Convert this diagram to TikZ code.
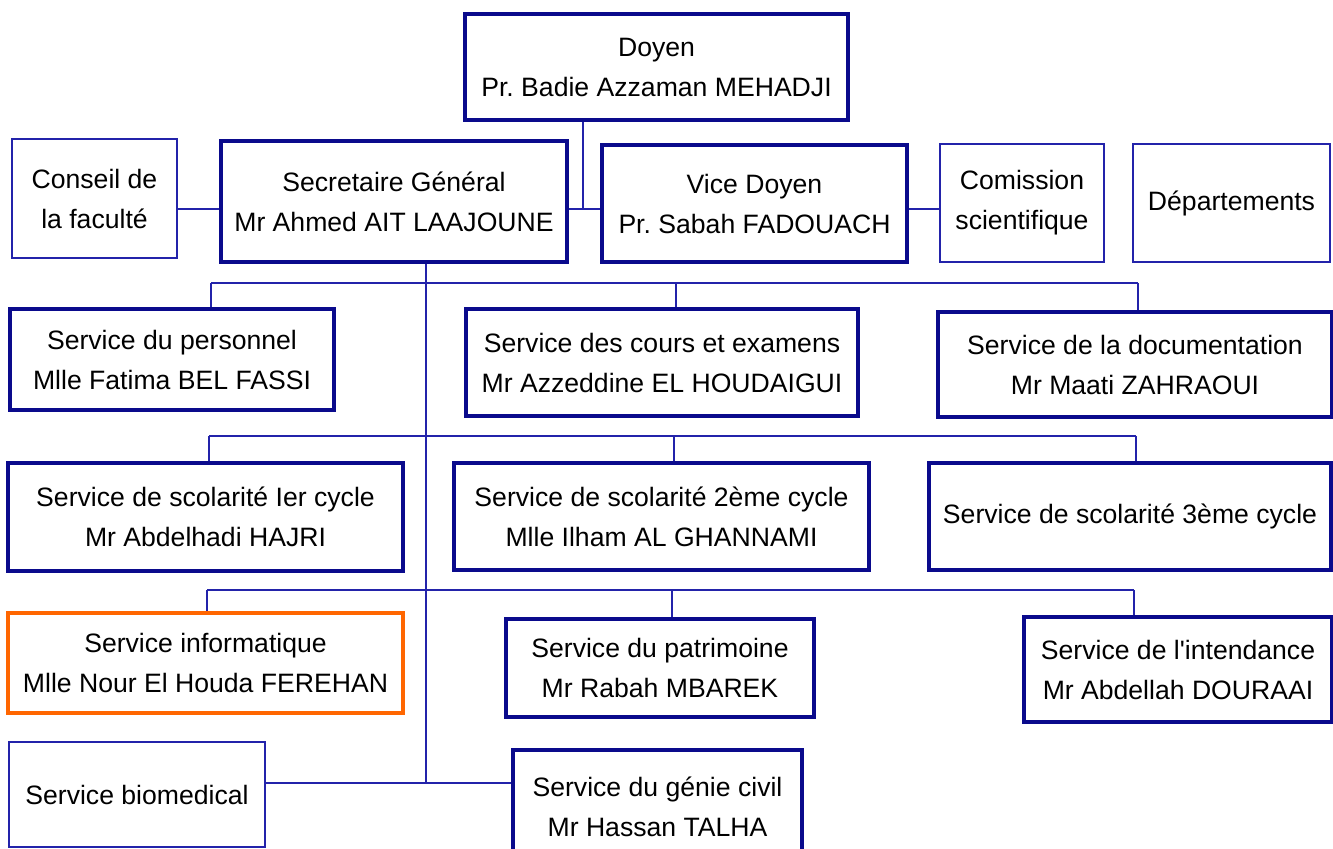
\documentclass[tikz,border=0pt]{standalone}
\usepackage{fontspec}
\setmainfont{Liberation Sans}
\usepackage{tikz}
\definecolor{orgblue}{RGB}{10,10,140}
\definecolor{lightorgblue}{RGB}{35,35,170}
\definecolor{orgorange}{RGB}{255,102,0}
\tikzset{
  poste/.style={draw=orgblue, line width=2pt, align=center, inner sep=0pt, text=black},
  organe/.style={poste, draw=lightorgblue, line width=1.2pt},
  lien/.style={draw=lightorgblue, line width=0.8pt},
  taille/.style 2 args={minimum width=#1*0.5pt, minimum height=#2*0.5pt}
}
\frenchspacing

\begin{document}
\begin{tikzpicture}[x=0.5pt,y=-0.5pt,font=\fontsize{13.3}{20}\selectfont]
	\useasboundingbox[fill=white] (0,0) rectangle (1333,849);
	\node[poste,taille={383}{106}] (doyen) at (656.5,67) {Doyen\\Pr. Badie Azzaman MEHADJI};
	\node[organe,taille={165}{119}] (conseil) at (94.5,198.5) {Conseil de\\la facult\'e};
	\node[poste,taille={346}{121}] (sg) at (394,201.5) {Secretaire G\'en\'eral\\Mr Ahmed AIT LAAJOUNE};
	\node[poste,taille={305}{117}] (vd) at (754.5,203.5) {Vice Doyen\\Pr. Sabah FADOUACH};
	\node[organe,taille={164}{118}] (comm) at (1022,203) {Comission\\scientifique};
	\node[organe,taille={197}{118}] (dept) at (1231.5,203) {D\'epartements};

	\node[poste,taille={324}{101}] (pers) at (172,359.5) {Service du personnel\\Mlle Fatima BEL FASSI};
	\node[poste,taille={392}{107}] (cours) at (662,362.5) {Service des cours et examens\\Mr Azzeddine EL HOUDAIGUI};
	\node[poste,taille={394}{105}] (doc) at (1135,364.5) {Service de la documentation\\Mr Maati ZAHRAOUI};

	\node[poste,taille={395}{108}] (scol1) at (205.5,517) {Service de scolarit\'e Ier cycle\\Mr Abdelhadi HAJRI};
	\node[poste,taille={415}{107}] (scol2) at (661.5,516.5) {Service de scolarit\'e 2\`eme cycle\\Mlle Ilham AL GHANNAMI};
	\node[poste,taille={402}{107}] (scol3) at (1130,516.5) {Service de scolarit\'e 3\`eme cycle};

	\node[poste,draw=orgorange,taille={395}{100}] (info) at (205.5,663) {Service informatique\\Mlle Nour El Houda FEREHAN};
	\node[poste,taille={308}{98}] (patr) at (660,668) {Service du patrimoine\\Mr Rabah MBAREK};
	\node[poste,taille={308}{105}] (intend) at (1178,669.5) {Service de l\textquotesingle intendance\\Mr Abdellah DOURAAI};

	\node[organe,taille={256}{105}] (bio) at (137,794.5) {Service biomedical};
	\node[poste,taille={289}{115}] (genie) at (657.5,807) {Service du g\'enie civil\\Mr Hassan TALHA};

	\coordinate (jonction) at (583,209);
	\coordinate (pied) at (426,783);
	\draw[lien] (jonction |- doyen.south) -- (jonction);
	\draw[lien] (sg.east |- jonction) -- (vd.west |- jonction);
	\draw[lien] (conseil.east |- jonction) -- (sg.west |- jonction);
	\draw[lien] (vd.east |- jonction) -- (comm.west |- jonction);
	\draw[lien] (pied |- sg.south) -- (pied);
	\draw[lien] (bio.east |- pied) -- (genie.west |- pied);
	\foreach \y/\x/\g/\m/\d in {283/211/pers/cours/doc,436/209/scol1/scol2/scol3,590/207/info/patr/intend}{
		\draw[lien] (\x,\y) -- (\x+927,\y);
		\draw[lien] (\x,\y) -- (\x,0 |- \g.north);
		\draw[lien] (\x+465,\y) -- (\x+465,0 |- \m.north);
		\draw[lien] (\x+927,\y) -- (\x+927,0 |- \d.north);
	}
\end{tikzpicture}
\end{document}
